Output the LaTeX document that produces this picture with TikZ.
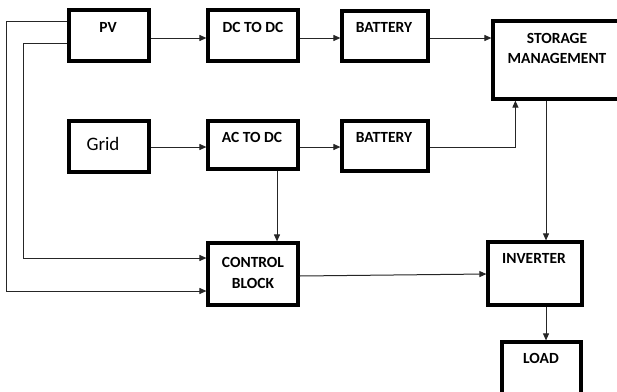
\documentclass[tikz,border=0pt]{standalone}
\usepackage{fontspec}
\setmainfont{Carlito}
\usetikzlibrary{arrows.meta}
\begin{document}
\begin{tikzpicture}[x=1pt,y=-1pt,
  box/.style={draw=black, line width=3.2pt, rectangle, inner sep=0pt},
  lbl/.style={font=\bfseries\fontsize{15.5}{20.5}\selectfont, align=center, inner sep=0pt},
  conn/.style={draw=black!85, line width=1pt, -{Triangle[length=7pt,width=6pt]}},
  wire/.style={draw=black!85, line width=1pt}]
\useasboundingbox (0,0) rectangle (617,391);
\fill[white] (0,0) rectangle (617,391);
% boxes
\node[box, minimum width=80pt, minimum height=51pt] (pv) at (109,35.5) {};
\node[box, minimum width=90pt, minimum height=51pt] (dc) at (253,35.5) {};
\node[box, minimum width=86pt, minimum height=50pt] (bat1) at (385,36) {};
\node[box, minimum width=130pt, minimum height=78pt] (stor) at (558,60) {};
\node[box, minimum width=80pt, minimum height=51pt] (grid) at (109,146.5) {};
\node[box, minimum width=90pt, minimum height=48pt] (ac) at (253,145) {};
\node[box, minimum width=86pt, minimum height=50pt] (bat2) at (385,146) {};
\node[box, minimum width=90pt, minimum height=62pt] (ctrl) at (253,274) {};
\node[box, minimum width=94pt, minimum height=63pt] (inv) at (535,273.5) {};
\node[box, minimum width=79pt, minimum height=58pt] (load) at (541.5,371) {};
% labels
\node[lbl] (pvt) at (108,27) {PV};
\node[lbl] (dct) at (253,27) {DC TO DC};
\node[lbl] (bat1t) at (384,27) {BATTERY};
\node[lbl] (stort) at (557,48.5) {STORAGE\\MANAGEMENT};
\node[font=\fontsize{19}{22}\selectfont, inner sep=0pt] (gridt) at (103,144) {Grid};
\node[lbl] (act) at (252,137) {AC TO DC};
\node[lbl] (bat2t) at (384,137) {BATTERY};
\node[lbl] (ctrlt) at (253,273) {CONTROL\\BLOCK};
\node[lbl] (invt) at (534,258) {INVERTER};
\node[lbl] (loadt) at (541,358) {LOAD};
% connectors
\draw[conn] ([yshift=-2.5pt]pv.east) -- ([yshift=-2.5pt]dc.west);
\draw[conn] ([yshift=-2.5pt]dc.east) -- ([yshift=-2pt]bat1.west);
\draw[conn] ([yshift=-2pt]bat1.east) -- ([yshift=22pt]stor.west);
\draw[conn] ([yshift=-0.5pt]grid.east) -- ([yshift=-2pt]ac.west);
\draw[conn] ([yshift=-2pt]ac.east) -- ([yshift=-1pt]bat2.east -| bat2.west);
\draw[conn] ([yshift=-1pt]bat2.east) -| ([xshift=24pt]stor.south west);
\draw[conn] ([xshift=-12pt]stor.south) -- ([xshift=-12pt]stor.south |- inv.north);
\draw[conn] ([xshift=24pt]ac.south) -- ([xshift=24pt]ac.south |- ctrl.north);
\draw[conn] ([yshift=14.5pt]pv.west) -- ++(-61,0) |- ([yshift=-17pt]ctrl.west);
\draw[conn] ([yshift=-7.5pt]pv.west) -- ++(-44,0) |- ([yshift=16pt]ctrl.west);
\draw[conn] ([yshift=-2pt]ctrl.east) -- ([yshift=-0.5pt]inv.west);
\draw[conn] ([xshift=11pt]inv.south) -- ([xshift=11pt]inv.south |- load.north);
\end{tikzpicture}
\end{document}
